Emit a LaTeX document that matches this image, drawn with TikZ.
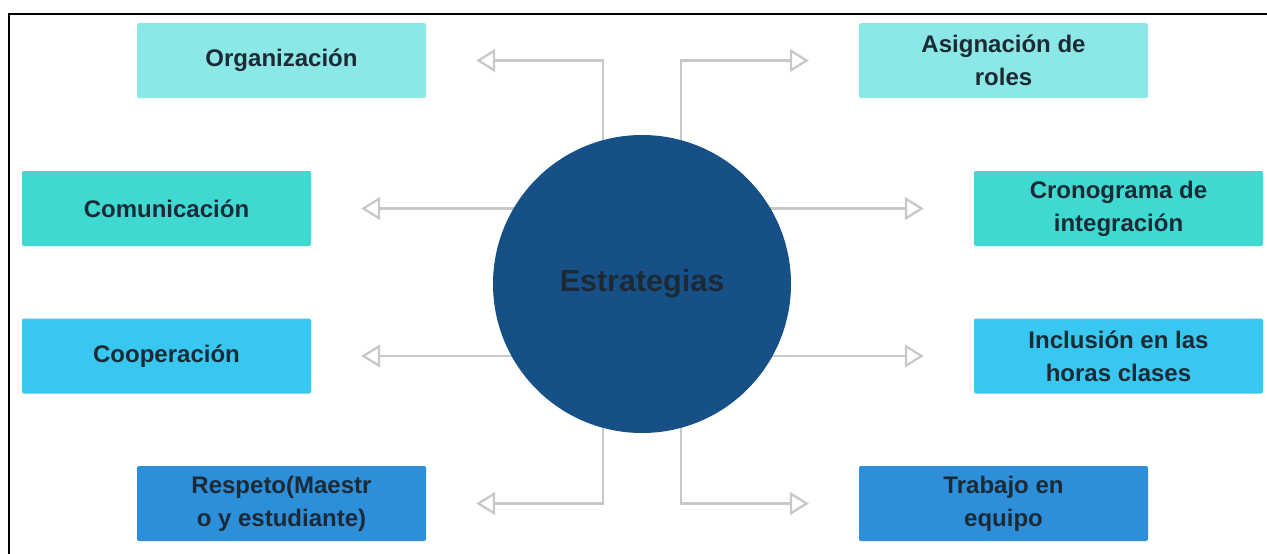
\documentclass[tikz,border=0pt]{standalone}
\usepackage{fontspec}
\setmainfont{Liberation Sans}
\usetikzlibrary{arrows.meta,backgrounds}
\definecolor{cLight}{HTML}{8BE8E6}
\definecolor{cTurq}{HTML}{3FD9D2}
\definecolor{cSky}{HTML}{38C7F0}
\definecolor{cBlue}{HTML}{2D8FD9}
\definecolor{cCirc}{HTML}{165087}
\definecolor{txt}{HTML}{1C2A36}
\definecolor{linegray}{HTML}{C8C8C8}
\begin{document}
\begin{tikzpicture}[x=1pt,y=-1pt,
  box/.style={rectangle, rounded corners=2pt, minimum width=289pt, minimum height=75pt, inner sep=0pt, align=center, text=txt, font=\bfseries\fontsize{24}{33}\selectfont},
  conn/.style={draw=linegray, line width=2.3pt, -{Triangle[open, length=19pt, width=23pt]}, shorten >=50pt},
  frame/.style={draw=black, line width=2pt}]
\useasboundingbox (0,0) rectangle (1267,554);
\node[box, fill=cLight] (org) at (281.5,60.5) {Organización};
\node[box, fill=cLight] (asig) at (1003.5,60.5) {Asignación de\\roles};
\node[box, fill=cTurq] (com) at (166.5,208.5) {Comunicación};
\node[box, fill=cTurq] (cron) at (1118.5,208.5) {Cronograma de\\integración};
\node[box, fill=cSky] (coop) at (166.5,356) {Cooperación};
\node[box, fill=cSky] (incl) at (1118.5,356) {Inclusión en las\\horas clases};
\node[box, fill=cBlue] (resp) at (281.5,503.5) {Respeto(Maestr\\o y estudiante)};
\node[box, fill=cBlue] (trab) at (1003.5,503.5) {Trabajo en\\equipo};
\node[circle, fill=cCirc, minimum size=298pt, inner sep=0pt, text=txt, font=\bfseries\fontsize{30.5}{36}\selectfont] (est) at (642,284) {Estrategias};
\begin{scope}[on background layer]
\draw[conn] ([xshift=-39pt]est.center) |- (org.east);
\draw[conn] ([xshift=39pt]est.center) |- (asig.west);
\draw[conn] (est.center |- com.east) -- (com.east);
\draw[conn] (est.center |- cron.west) -- (cron.west);
\draw[conn] (est.center |- coop.east) -- (coop.east);
\draw[conn] (est.center |- incl.west) -- (incl.west);
\draw[conn] ([xshift=-39pt]est.center) |- (resp.east);
\draw[conn] ([xshift=39pt]est.center) |- (trab.west);
\end{scope}
\coordinate (fbl) at (9,554);
\coordinate (ftl) at (9,14);
\coordinate (ftr) at (1267,14);
\draw[frame] (fbl) -- (ftl) -- (ftr);
\end{tikzpicture}
\end{document}
